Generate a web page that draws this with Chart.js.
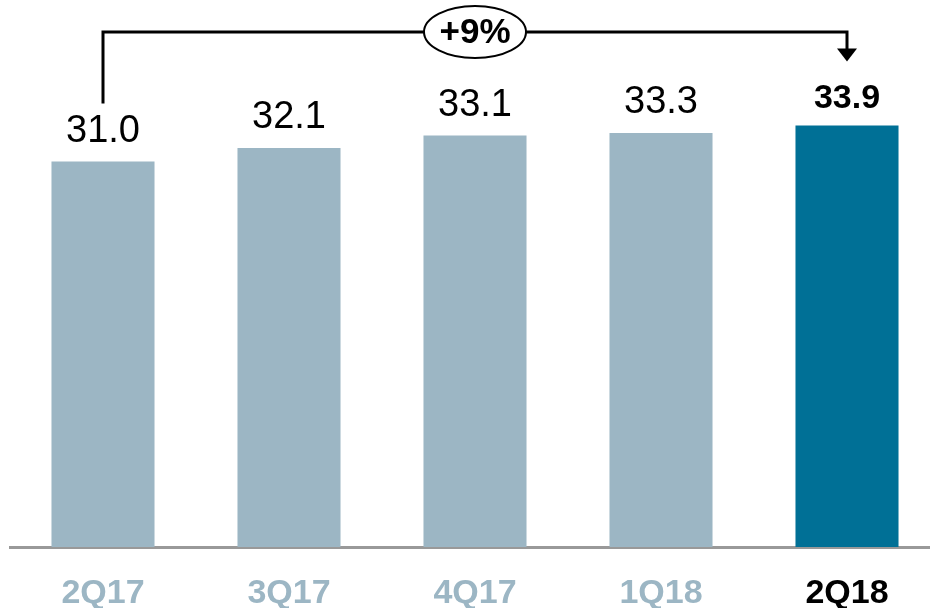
<!DOCTYPE html>
<html>
<head>
<meta charset="utf-8">
<script src="https://cdn.jsdelivr.net/npm/chart.js@4/dist/chart.umd.min.js"></script>
<style>
  html, body { margin: 0; padding: 0; background: #fff; overflow: hidden; }
  #wrap { width: 940px; height: 608px; position: relative; }
</style>
</head>
<body>
<div id="wrap"><canvas id="chart"></canvas></div>
<script>
// dati
const quarters = ['2Q17', '3Q17', '4Q17', '1Q18', '2Q18'];
const values = [31.0, 32.1, 33.1, 33.3, 33.9];
const growthLabel = '+9%';

const light = '#9cb6c4';
const dark = '#007096';
const last = quarters.length - 1;

const font = '"Liberation Sans", Arial, sans-serif';

// etichette sopra le barre + freccia di crescita
const overlay = {
    id: 'overlay',
    afterDatasetsDraw(chart) {
        const ctx = chart.ctx;
        const bars = chart.getDatasetMeta(0).data;

        ctx.save();
        ctx.textAlign = 'center';
        ctx.textBaseline = 'alphabetic';
        ctx.fillStyle = '#000';
        bars.forEach((bar, i) => {
            if (i === last) {
                ctx.font = 'bold 34px ' + font;
                ctx.fillText(values[i].toFixed(1), bar.x, bar.y - 18);
            } else {
                ctx.font = '38px ' + font;
                ctx.fillText(values[i].toFixed(1), bar.x, bar.y - 20);
            }
        });

        // freccia
        const a = bars[0], b = bars[last];
        const lineY = chart.chartArea.top + 32;
        const tipY = b.y - 64;
        ctx.strokeStyle = '#000';
        ctx.lineWidth = 3;
        ctx.beginPath();
        ctx.moveTo(a.x, a.y - 58);
        ctx.lineTo(a.x, lineY);
        ctx.lineTo(b.x, lineY);
        ctx.lineTo(b.x, tipY - 10);
        ctx.stroke();
        ctx.beginPath();
        ctx.moveTo(b.x - 10, tipY - 13);
        ctx.lineTo(b.x + 10, tipY - 13);
        ctx.lineTo(b.x, tipY);
        ctx.closePath();
        ctx.fill();

        // ovale con la percentuale
        const cx = (a.x + b.x) / 2;
        ctx.beginPath();
        ctx.ellipse(cx, lineY, 51, 26, 0, 0, Math.PI * 2);
        ctx.fillStyle = '#fff';
        ctx.fill();
        ctx.lineWidth = 2;
        ctx.stroke();
        ctx.fillStyle = '#000';
        ctx.font = 'bold 35px ' + font;
        ctx.textBaseline = 'middle';
        ctx.fillText(growthLabel, cx, lineY + 1);
        ctx.restore();
    }
};

const chart = new Chart(document.querySelector('#chart'), {
    type: 'bar',
    data: {
        labels: quarters,
        datasets: [{
            data: values,
            backgroundColor: values.map((v, i) => i === last ? dark : light),
            barPercentage: 0.554,
            categoryPercentage: 1
        }]
    },
    options: {
        responsive: true,
        maintainAspectRatio: false,
        animation: false,
        layout: { padding: { left: 10, right: 0, top: 0, bottom: -33 } },
        plugins: {
            legend: { display: false },
            tooltip: { enabled: false }
        },
        scales: {
            x: {
                grid: { display: false, drawTicks: false },
                border: { display: true, color: '#999999', width: 3 },
                ticks: {
                    padding: 30,
                    color: ctx => ctx.index === last ? '#000' : light,
                    font: { family: font, size: 34, weight: 'bold', lineHeight: 1 }
                }
            },
            y: {
                display: false,
                min: 0,
                max: 44
            }
        }
    },
    plugins: [overlay]
});
</script>
</body>
</html>
